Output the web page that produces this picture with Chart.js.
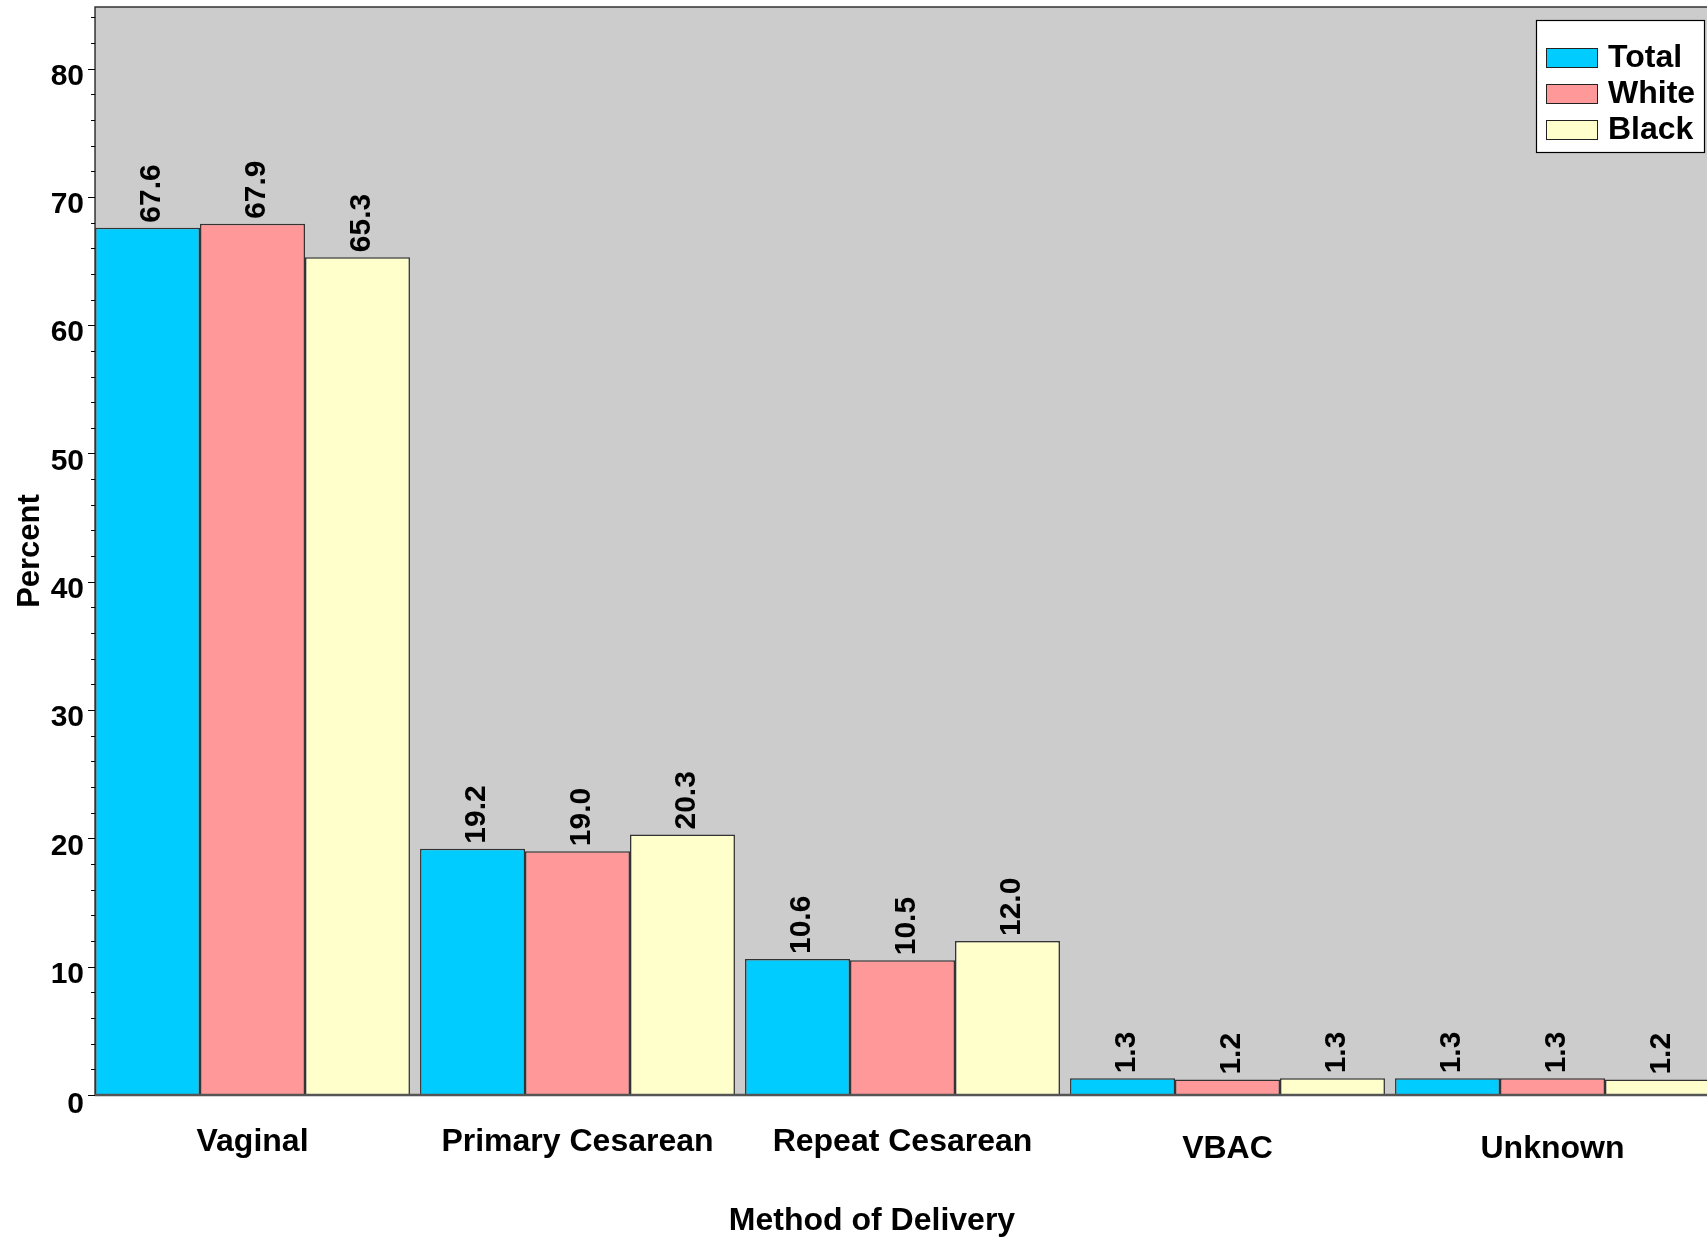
<!DOCTYPE html>
<html>
<head>
<meta charset="utf-8">
<script src="https://cdn.jsdelivr.net/npm/chart.js@4.4.0/dist/chart.umd.min.js"></script>
<style>
  html, body { margin: 0; padding: 0; background: #fff; overflow: hidden; }
  #wrap { width: 1715px; height: 1239px; }
</style>
</head>
<body>
<div id="wrap"><canvas id="deliveryChart" width="1715" height="1239"></canvas></div>
<script>
const categories = ['Vaginal', 'Primary Cesarean', 'Repeat Cesarean', 'VBAC', 'Unknown'];
const totalPct = [67.6, 19.2, 10.6, 1.3, 1.3];
const whitePct = [67.9, 19.0, 10.5, 1.2, 1.3];
const blackPct = [65.3, 20.3, 12.0, 1.3, 1.2];
const seriesNames = ['Total', 'White', 'Black'];
const yTickValues = [0, 10, 20, 30, 40, 50, 60, 70, 80];

const labelFont = 'bold 30px "Liberation Sans", Arial, sans-serif';

// grey plot box, border, y tick marks and y tick labels (a bit below the tick, like the original)
const plotFrame = {
  id: 'plotFrame',
  beforeDatasetsDraw(chart) {
    const { ctx, chartArea, scales } = chart;
    const first = chart.getDatasetMeta(0).data[0];
    const left = first.x - first.width / 2;
    ctx.save();
    ctx.fillStyle = '#cccccc';
    ctx.fillRect(left, chartArea.top, chartArea.right - left, chartArea.bottom - chartArea.top);
    ctx.strokeStyle = '#333';
    ctx.lineWidth = 1.5;
    ctx.strokeRect(left, chartArea.top, chartArea.right - left + 5, chartArea.bottom - chartArea.top);
    ctx.lineWidth = 1;
    ctx.strokeStyle = '#000';
    for (let v = 0; v <= 84; v += 2) {
      const y = Math.round(scales.y.getPixelForValue(v)) + 0.5;
      const len = v % 10 === 0 ? 7 : 4;
      ctx.beginPath();
      ctx.moveTo(left - len, y);
      ctx.lineTo(left, y);
      ctx.stroke();
    }
    ctx.font = 'bold 30px "Liberation Sans", Arial, sans-serif';
    ctx.fillStyle = '#000';
    ctx.textAlign = 'right';
    ctx.textBaseline = 'middle';
    yTickValues.forEach(v => {
      const y = scales.y.getPixelForValue(v);
      ctx.fillText(String(v), left - 11, y + (v === 0 ? 10 : 8));
    });
    ctx.restore();
  },
  afterDatasetsDraw(chart) {
    const { ctx, chartArea } = chart;
    const first = chart.getDatasetMeta(0).data[0];
    const left = first.x - first.width / 2;
    ctx.save();
    ctx.strokeStyle = '#555';
    ctx.lineWidth = 2.5;
    ctx.beginPath();
    ctx.moveTo(left, chartArea.bottom);
    ctx.lineTo(chartArea.right, chartArea.bottom);
    ctx.stroke();
    ctx.restore();
  }
};

// rotated value labels above the bars
const valueLabels = {
  id: 'valueLabels',
  afterDatasetsDraw(chart) {
    const ctx = chart.ctx;
    ctx.save();
    ctx.font = labelFont;
    ctx.fillStyle = '#000';
    ctx.textAlign = 'left';
    ctx.textBaseline = 'middle';
    chart.data.datasets.forEach((ds, i) => {
      chart.getDatasetMeta(i).data.forEach((bar, j) => {
        ctx.save();
        ctx.translate(bar.x + 4, bar.y - 5);
        ctx.rotate(-Math.PI / 2);
        ctx.fillText(ds.data[j].toFixed(1), 0, 0);
        ctx.restore();
      });
    });
    ctx.restore();
  }
};

// legend box + x axis title
const extras = {
  id: 'extras',
  afterDraw(chart) {
    const ctx = chart.ctx;
    ctx.save();
    ctx.fillStyle = '#fff';
    ctx.fillRect(1536, 20, 168, 132);
    ctx.strokeStyle = '#000';
    ctx.lineWidth = 1.2;
    ctx.strokeRect(1536.5, 20.5, 168, 132);
    const rows = [57, 93, 129];
    ctx.font = 'bold 32px "Liberation Sans", Arial, sans-serif';
    ctx.textBaseline = 'middle';
    chart.data.datasets.forEach((ds, i) => {
      ctx.fillStyle = ds.backgroundColor;
      ctx.fillRect(1546, rows[i] - 9, 51, 19);
      ctx.strokeStyle = '#222';
      ctx.lineWidth = 1;
      ctx.strokeRect(1546.5, rows[i] - 8.5, 51, 19);
      ctx.fillStyle = '#000';
      ctx.fillText(ds.label, 1608, rows[i] + 1);
    });
    ctx.textAlign = 'center';
    ctx.font = 'bold 32px "Liberation Sans", Arial, sans-serif';
    ctx.fillText('Method of Delivery', 872, 1221);
    ctx.restore();
  }
};

const ctx = document.getElementById('deliveryChart').getContext('2d');
new Chart(ctx, {
  type: 'bar',
  data: {
    labels: categories,
    datasets: [
      { label: seriesNames[0], data: totalPct, backgroundColor: '#00ccff' },
      { label: seriesNames[1], data: whitePct, backgroundColor: '#ff9999' },
      { label: seriesNames[2], data: blackPct, backgroundColor: '#ffffcc' }
    ].map(d => Object.assign(d, {
      borderColor: '#333',
      borderWidth: 1.5,
      borderSkipped: 'bottom',
      categoryPercentage: 0.969,
      barPercentage: 1
    }))
  },
  options: {
    responsive: false,
    animation: false,
    layout: { padding: { top: 7, right: 0, left: 0, bottom: 0 } },
    plugins: {
      legend: { display: false },
      tooltip: { enabled: false }
    },
    scales: {
      x: {
        offset: true,
        grid: { display: false, drawTicks: false },
        border: { display: false },
        ticks: {
          color: '#000',
          padding: 28,
          maxRotation: 0,
          font: c => ({
            family: '"Liberation Sans", Arial, sans-serif',
            size: 32,
            weight: 'bold',
            lineHeight: c.index >= 3 ? 1.65 : 1.2
          })
        },
        afterFit: s => { s.height = 144; s.paddingLeft = 0; s.paddingRight = 0; }
      },
      y: {
        min: 0,
        max: 84.8,
        grid: { display: false, drawTicks: false },
        border: { display: false },
        afterBuildTicks: s => { s.ticks = yTickValues.map(v => ({ value: v })); },
        ticks: { display: false },
        title: {
          display: true,
          text: 'Percent',
          color: '#000',
          padding: { top: 12, bottom: 0 },
          font: { family: '"Liberation Sans", Arial, sans-serif', size: 31, weight: 'bold' }
        },
        afterFit: s => { s.width = 90; s.paddingTop = 0; s.paddingBottom = 0; }
      }
    }
  },
  plugins: [plotFrame, valueLabels, extras]
});
</script>
</body>
</html>
